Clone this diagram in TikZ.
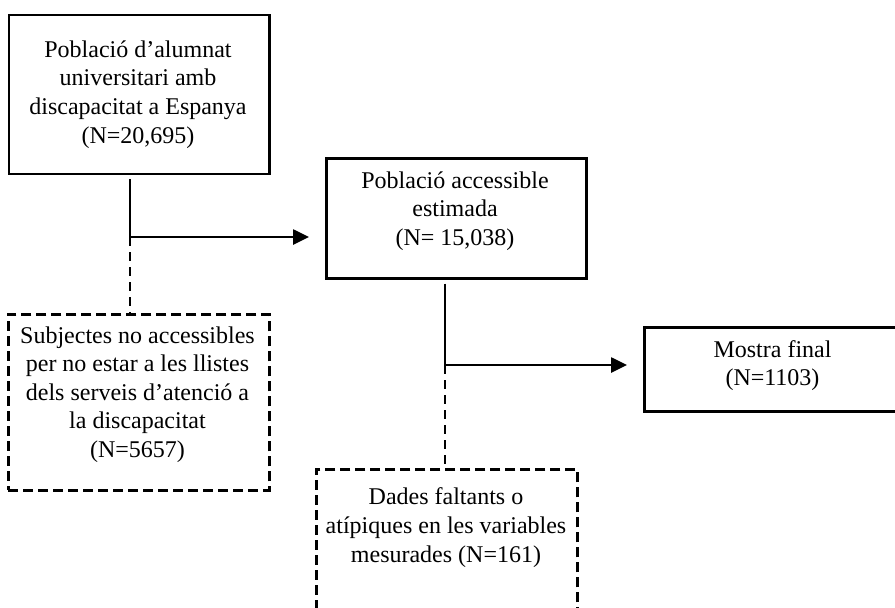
\documentclass[tikz,border=0pt]{standalone}
\usepackage{fontspec}
\setmainfont{Liberation Serif}
\usetikzlibrary{arrows.meta}
\begin{document}
\begin{tikzpicture}[x=1pt,y=-1pt,
  boxsolid/.style={draw, rectangle, line width=2.6pt, anchor=north west, inner sep=0pt},
  boxdashed/.style={boxsolid, dash pattern=on 10pt off 5pt},
  boxtext/.style={align=center, inner sep=0pt, font=\fontsize{24}{28.6}\selectfont},
  link/.style={line width=1.8pt, shorten <=4pt},
  linkdashed/.style={line width=1.7pt, dash pattern=on 9pt off 6pt},
  flow/.style={line width=2.6pt, -{Triangle[length=16pt,width=15pt]}, shorten >=16pt}
]
\clip (0,0) rectangle (895,608);

% boxes
\node[boxsolid, minimum width=260.5pt, minimum height=159pt] (b1) at (7.5,13.5) {};
\node[boxsolid, minimum width=260pt, minimum height=120pt] (b2) at (325,157) {};
\node[boxdashed, minimum width=261pt, minimum height=176pt] (b3) at (7,313) {};
\node[boxsolid, minimum width=259pt, minimum height=84pt] (b4) at (643,326) {};
\node[boxdashed, minimum width=261pt, minimum height=157pt] (b5) at (315,468) {};

% box texts
\node[boxtext] (t1) at (138,94.5) {Població d’alumnat\\universitari amb\\discapacitat a Espanya\\(N=20,695)};
\node[boxtext] (t2) at (455,211) {Població accessible\\estimada\\(N= 15,038)};
\node[boxtext] (t3) at (137.5,394.5) {Subjectes no accessibles\\per no estar a les llistes\\dels serveis d’atenció a\\la discapacitat\\(N=5657)};
\node[boxtext] (t4) at (772.5,365.5) {Mostra final\\(N=1103)};
\node[boxtext] (t5) at (446,527.5) {Dades faltants o\\atípiques en les variables\\mesurades (N=161)};

% connectors
\coordinate (j1) at (130,237);
\coordinate (j2) at (445,365);
\draw[link] (b1.south -| j1) -- (j1);
\draw[linkdashed] (j1) -- (b3.north -| j1);
\draw[flow] (j1) -- (b2.west |- j1);
\draw[link] (b2.south -| j2) -- (j2);
\draw[linkdashed] (j2) -- (b5.north -| j2);
\draw[flow] (j2) -- (b4.west |- j2);
\end{tikzpicture}
\end{document}
